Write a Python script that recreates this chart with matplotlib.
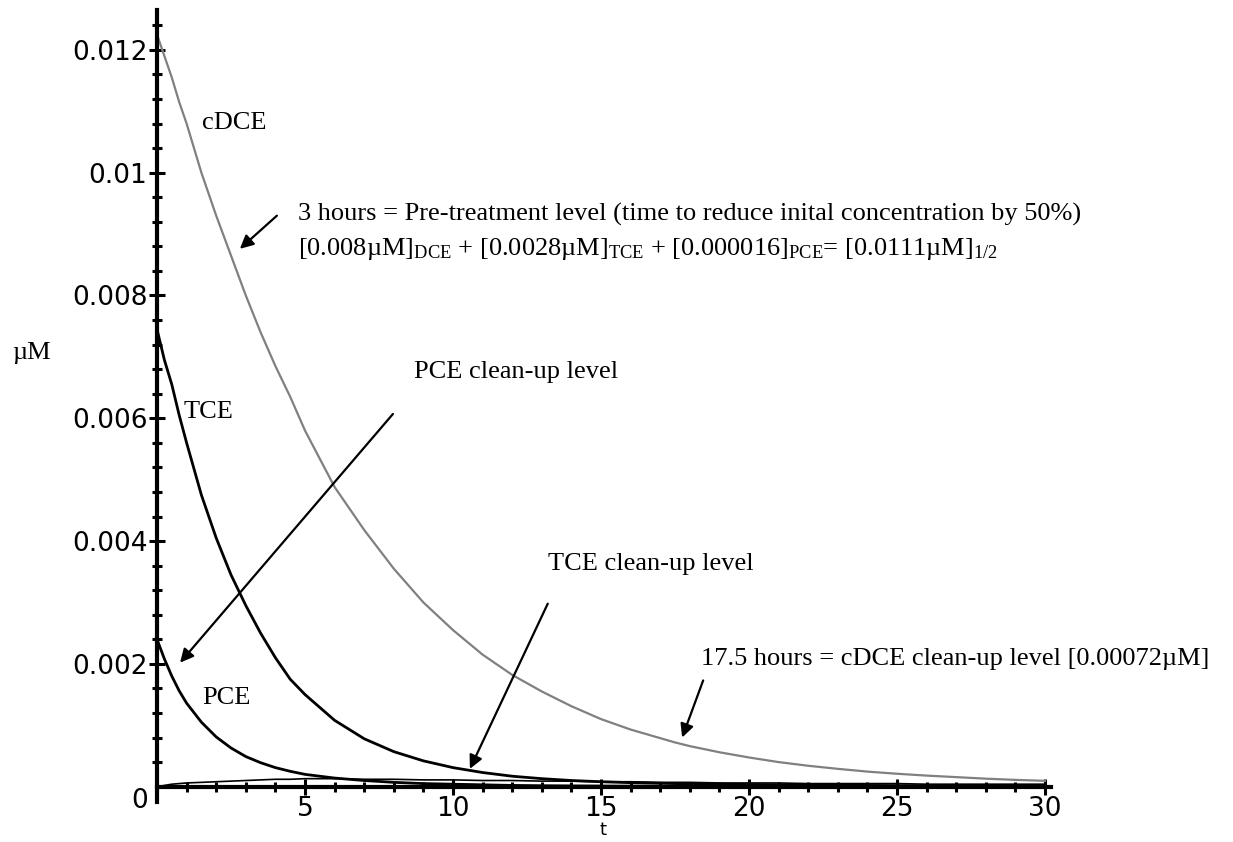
import matplotlib
matplotlib.use("Agg")
import matplotlib.pyplot as plt
from matplotlib.ticker import MultipleLocator, FixedLocator, FixedFormatter

plt.rcParams['mathtext.fontset'] = 'custom'
plt.rcParams['mathtext.rm'] = 'Liberation Serif'
plt.rcParams['mathtext.it'] = 'Liberation Serif:italic'

# time (hours)
t = [0, 0.25, 0.5, 0.75, 1, 1.5, 2, 2.5, 3, 3.5, 4, 4.5, 5, 6, 7, 8, 9, 10,
     11, 12, 13, 14, 15, 16, 17, 17.5, 18, 19, 20, 21, 22, 23, 24, 25, 26,
     27, 28, 29, 30]

# concentrations in 1e-3 uM
cdce = [12.25, 11.9, 11.55, 11.15, 10.8, 10.0, 9.3, 8.65, 8.0, 7.4, 6.85, 6.35,
        5.8, 4.88, 4.18, 3.55, 3.0, 2.55, 2.15, 1.82, 1.55, 1.31, 1.10, 0.93,
        0.79, 0.72, 0.66, 0.56, 0.475, 0.40, 0.34, 0.29, 0.245, 0.21, 0.18,
        0.155, 0.13, 0.11, 0.095]
tce = [7.45, 6.95, 6.55, 6.05, 5.6, 4.75, 4.05, 3.45, 2.95, 2.5, 2.1, 1.75,
       1.5, 1.08, 0.78, 0.57, 0.42, 0.31, 0.23, 0.17, 0.13, 0.1, 0.08, 0.065,
       0.055, 0.05, 0.045, 0.04, 0.035, 0.03, 0.025, 0.022, 0.02, 0.017, 0.015,
       0.012, 0.01, 0.008, 0.006]
pce = [2.4, 2.08, 1.8, 1.56, 1.36, 1.05, 0.81, 0.63, 0.49, 0.39, 0.31, 0.25,
       0.2, 0.14, 0.1, 0.07, 0.05, 0.04, 0.03, 0.02, 0.015, 0.012, 0.01, 0.008,
       0.007, 0.006, 0.006, 0.005, 0.004, 0.004, 0.003, 0.003, 0.002, 0.002,
       0.002, 0.001, 0.001, 0.001, 0.001]
vc = [0, 0.02, 0.04, 0.05, 0.06, 0.07, 0.08, 0.09, 0.1, 0.11, 0.12, 0.12,
      0.13, 0.13, 0.12, 0.12, 0.11, 0.11, 0.1, 0.1, 0.09, 0.09, 0.08, 0.08,
      0.07, 0.07, 0.07, 0.06, 0.06, 0.06, 0.05, 0.05, 0.05, 0.05, 0.04, 0.04,
      0.04, 0.04, 0.04]

scale = 1e-3
cdce = [v * scale for v in cdce]
tce = [v * scale for v in tce]
pce = [v * scale for v in pce]
vc = [v * scale for v in vc]

y_major = [0.002, 0.004, 0.006, 0.008, 0.01, 0.012]
y_labels = ["0.002", "0.004", "0.006", "0.008", "0.01", "0.012"]
x_major = [5, 10, 15, 20, 25, 30]
x_labels = ["5", "10", "15", "20", "25", "30"]

W, H = 1233, 842
fig = plt.figure(figsize=(W / 100, H / 100), dpi=100)
ax = fig.add_axes([157 / W, 1 - 802 / H, (1051 - 157) / W, (802 - 10) / H])
ax.set_xlim(0, 30.2)
ax.set_ylim(-0.00025, 0.01265)

ax.plot(t, vc, color="black", lw=1.2)
ax.plot(t, pce, color="black", lw=2.0)
ax.plot(t, tce, color="black", lw=2.0)
ax.plot(t, cdce, color="#808080", lw=1.6)

for s in ("top", "right"):
    ax.spines[s].set_visible(False)
ax.spines["left"].set_position(("data", 0))
ax.spines["bottom"].set_position(("data", 0))
ax.spines["left"].set_linewidth(3)
ax.spines["bottom"].set_linewidth(3)

tick_font = dict(family="DejaVu Sans", size=19)
ax.xaxis.set_major_locator(FixedLocator(x_major))
ax.xaxis.set_major_formatter(FixedFormatter(x_labels))
ax.xaxis.set_minor_locator(MultipleLocator(1))
ax.yaxis.set_major_locator(FixedLocator(y_major))
ax.yaxis.set_major_formatter(FixedFormatter(y_labels))
ax.yaxis.set_minor_locator(FixedLocator([i * 0.0004 for i in range(1, 32)]))
ax.tick_params(which="major", direction="inout", length=12, width=2.2, pad=1)
ax.tick_params(which="minor", direction="inout", length=7, width=2.2)
ax.tick_params(axis="x", which="major", pad=1)
for lab in ax.get_xticklabels() + ax.get_yticklabels():
    lab.set_fontfamily("DejaVu Sans")
    lab.set_fontsize(19)
ax.annotate("0", xy=(0, 0), xytext=(-17, -14), textcoords="offset pixels",
            ha="center", va="center", **tick_font)


def fx(px):
    return px / W


def fy(py):
    return 1 - py / H


serif = dict(family="Liberation Serif", size=19)
fig.text(fx(202), fy(123), "cDCE", ha="left", va="center", **serif)
fig.text(fx(298), fy(214),
         "3 hours = Pre-treatment level (time to reduce inital concentration by 50%)",
         ha="left", va="center", **serif)
fig.text(fx(298), fy(249),
         r"[0.008µM]$_{\mathrm{DCE}}$ + [0.0028µM]$_{\mathrm{TCE}}$ + "
         r"[0.000016]$_{\mathrm{PCE}}$= [0.0111µM]$_{\mathrm{1/2}}$",
         ha="left", va="center", **serif)
fig.text(fx(12), fy(353), "µM", ha="left", va="center", **serif)
fig.text(fx(414), fy(372), "PCE clean-up level", ha="left", va="center", **serif)
fig.text(fx(184), fy(412), "TCE", ha="left", va="center", **serif)
fig.text(fx(548), fy(564), "TCE clean-up level", ha="left", va="center", **serif)
fig.text(fx(701), fy(659), "17.5 hours = cDCE clean-up level [0.00072µM]",
         ha="left", va="center", **serif)
fig.text(fx(202), fy(698), "PCE", ha="left", va="center", **serif)
fig.text(fx(603), fy(830), "t", ha="center", va="center",
         family="DejaVu Sans", size=13)

arrow = dict(arrowstyle="-|>", color="black", lw=1.6, mutation_scale=20,
             shrinkA=0, shrinkB=0)
ax.annotate("", xy=(2.8, 0.00876), xytext=(4.05, 0.0093), arrowprops=arrow)
ax.annotate("", xy=(0.78, 0.00202), xytext=(7.97, 0.00607), arrowprops=arrow)
ax.annotate("", xy=(10.57, 0.00029), xytext=(13.2, 0.00298), arrowprops=arrow)
ax.annotate("", xy=(17.74, 0.0008), xytext=(18.45, 0.00173), arrowprops=arrow)

fig.savefig("out.png", dpi=100)
